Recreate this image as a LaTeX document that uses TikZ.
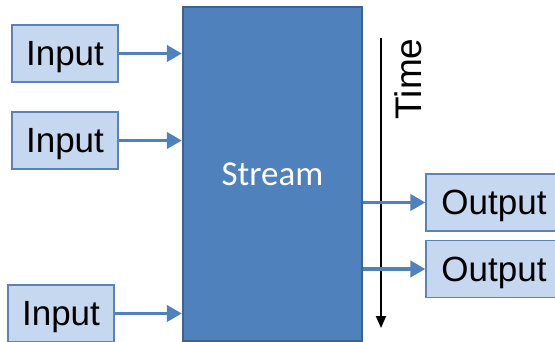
\documentclass[tikz,border=0pt]{standalone}
\usepackage{fontspec}
\setmainfont{Liberation Sans}
\newfontfamily\streamfont{Carlito}
\usepackage{xcolor}
\usepackage{tikz}
\usetikzlibrary{positioning,arrows.meta}

\definecolor{streamblue}{HTML}{4F81BD}
\definecolor{streamedge}{HTML}{3B6495}
\definecolor{boxfill}{HTML}{C6D8EF}
\definecolor{boxedge}{HTML}{5A84B8}

\begin{document}
\begin{tikzpicture}[
x=1pt,y=-1pt,
box/.style={
rectangle,draw=boxedge,fill=boxfill,line width=1.2pt,
font=\fontsize{35}{35}\selectfont,
minimum width=106pt,
minimum height=57pt,
inner sep=0pt,text depth=0pt
},
outbox/.style={box,minimum width=136pt},
flow/.style={-{Triangle[length=15pt,width=16pt]},line width=3.8pt,draw=streamblue}
]

\useasboundingbox (0,0) rectangle (555,342);
\clip (0,0) rectangle (555,342);

% STREAM
\node[rectangle,draw=streamedge,fill=streamblue,line width=2.2pt,
minimum width=179pt,minimum height=334pt,inner sep=0pt,text depth=0pt,
text=white,font=\streamfont\fontsize{35}{35}\selectfont] (stream) at (272.5,174) {Stream};

% INPUTS
\node[box] (in1) at (65,53.5) {Input};
\node[box] (in2) at (65,140.5) {Input};
\node[box] (in3) at (61,313.5) {Input};

% OUTPUTS
\node[outbox] (out1) at (494,202.5) {Output};
\node[outbox] (out2) at (494,269) {Output};

% TIME AXIS
\coordinate (t0) at (381,38);
\coordinate (t1) at (381,328);
\draw[-{Triangle[length=12pt,width=10pt]},line width=1.8pt] (t0) -- (t1);
\node[rotate=90,font=\fontsize{37}{37}\selectfont] (time) at (408,79) {Time};

% ARROWS
\draw[flow] (in1.east) -- (in1.east -| stream.west);
\draw[flow] (in2.east) -- (in2.east -| stream.west);
\draw[flow] (in3.east) -- (in3.east -| stream.west);
\draw[flow] (stream.east |- out1.west) -- (out1.west);
\draw[flow] (stream.east |- out2.west) -- (out2.west);

\end{tikzpicture}
\end{document}
